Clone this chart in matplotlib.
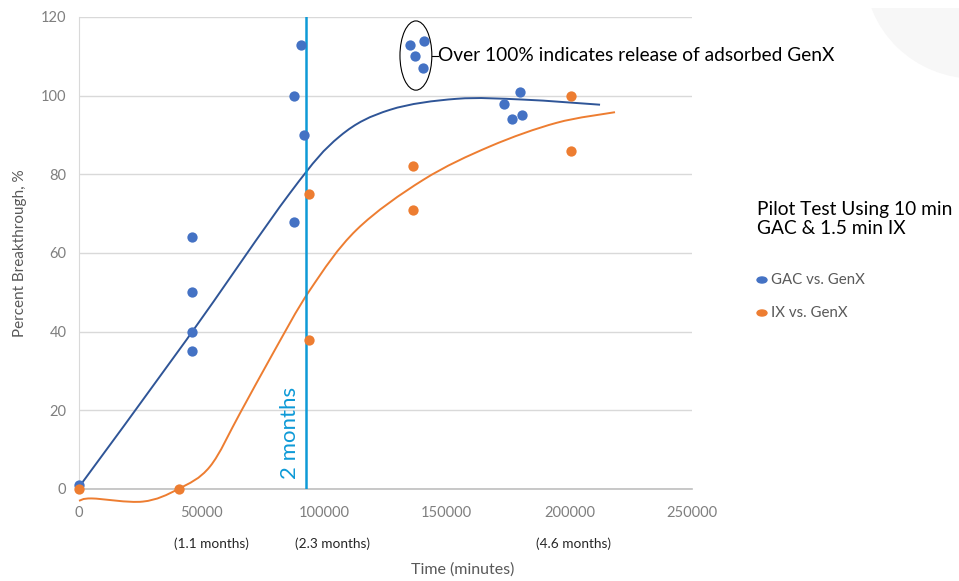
import matplotlib
matplotlib.use("Agg")
import matplotlib.pyplot as plt
import numpy as np
from matplotlib.path import Path
from matplotlib.patches import PathPatch, Ellipse, Circle, Rectangle

plt.rcParams['font.family'] = ['Lato', 'DejaVu Sans']

# Measured breakthrough points
gac_time = [0, 46000, 46000, 46000, 46000, 87700, 87700, 90500, 91800,
            135000, 137000, 140300, 140700, 173300, 176600, 179900, 180700]
gac_pct = [1, 64, 50, 40, 35, 100, 68, 113, 90,
           113, 110, 107, 114, 98, 94, 101, 95]

ix_time = [0, 40800, 93800, 93800, 136200, 136200, 200600, 200600]
ix_pct = [0, 0, 75, 38, 82, 71, 100, 86]

# Hand-drawn trend curves (knots)
gac_trend_t = [0, 43800, 86000, 106400, 126800, 154000, 181200, 212500]
gac_trend_y = [0.5, 37.9, 75.2, 89.7, 96.4, 99.2, 99.0, 97.7]

ix_trend_t = [0, 5200, 26000, 40500, 53400, 65700, 79200, 94200, 113200,
              140400, 167600, 194800, 218600]
ix_trend_y = [-3, -2.4, -3.2, 0, 5.7, 19.3, 34.6, 50.6, 65.9,
              78.6, 87.1, 93.1, 95.8]

xticks = [0, 50000, 100000, 150000, 200000, 250000]
yticks = [0, 20, 40, 60, 80, 100, 120]
month_labels = ["(1.1 months)", "(2.3 months)", "(4.6 months)"]
month_pos = [54000, 103500, 201500]
two_month_t = 92600

BLUE = "#4472C4"
ORANGE = "#ED7D31"
GRAY_TXT = "#7F7F7F"


def smooth_path(xs, ys):
    pts = np.column_stack([xs, ys]).astype(float)
    n = len(pts)
    verts = [pts[0]]
    codes = [Path.MOVETO]
    for i in range(n - 1):
        p0 = pts[i - 1] if i > 0 else pts[i]
        p1 = pts[i]
        p2 = pts[i + 1]
        p3 = pts[i + 2] if i + 2 < n else pts[i + 1]
        c1 = p1 + (p2 - p0) / 6.0
        c2 = p2 - (p3 - p1) / 6.0
        verts += [c1, c2, p2]
        codes += [Path.CURVE4] * 3
    return Path(verts, codes)


fig = plt.figure(figsize=(9.59, 5.81), dpi=100)

# faint slide decoration in the top-right corner (figure pixel space)
deco = Ellipse((975, 581 + 30), 220, 216, transform=None,
               color='#F7F7F7', zorder=0)
fig.patches.append(deco)
clip = Rectangle((0, 0), 959, 581 - 8, transform=None)
deco.set_clip_path(clip)

ax = fig.add_axes([79 / 959, 1 - 489 / 581, 613 / 959, 472 / 581])
ax.patch.set_alpha(0)

ax.set_xlim(0, 250000)
ax.set_ylim(0, 120)
ax.set_xticks(xticks)
ax.set_xticklabels([str(t) for t in xticks])
ax.set_yticks(yticks)
ax.tick_params(length=0, colors=GRAY_TXT, labelsize=10.5, pad=9)
ax.tick_params(axis='x', pad=12)
ax.grid(axis='y', color='#D9D9D9', lw=1)
ax.set_axisbelow(True)
for s in ['top', 'right']:
    ax.spines[s].set_visible(False)
ax.spines['left'].set_color('#D9D9D9')
ax.spines['bottom'].set_color('#BFBFBF')
ax.spines['bottom'].set_linewidth(1.2)

# trend curves
ax.add_patch(PathPatch(smooth_path(gac_trend_t, gac_trend_y), fill=False,
                       edgecolor='#2F5597', lw=1.4, clip_on=False, zorder=3))
ax.add_patch(PathPatch(smooth_path(ix_trend_t, ix_trend_y), fill=False,
                       edgecolor=ORANGE, lw=1.4, clip_on=False, zorder=3))

# 2-month marker
ax.axvline(two_month_t, color='#0E9AD7', lw=1.8, zorder=4)
ax.text(two_month_t - 2300, 2.5, "2 months", rotation=90, color='#0E9AD7',
        fontsize=16, ha='right', va='bottom', zorder=5)

# measured points
ax.scatter(gac_time, gac_pct, s=55, color=BLUE, zorder=6, clip_on=False,
           linewidths=0)
ax.scatter(ix_time, ix_pct, s=55, color=ORANGE, zorder=6, clip_on=False,
           linewidths=0)

# callout around the >100% points
ax.add_patch(Ellipse((137400, 110.2), 13000, 17.6, fill=False,
                     edgecolor='black', lw=0.8, zorder=7))
ax.plot([143900, 146300], [110.2, 110.2], color='black', lw=0.8, zorder=7)
ax.text(146300, 110.2, "Over 100% indicates release of adsorbed GenX",
        fontsize=13.8, va='center', ha='left', color='black', zorder=7)

ax.set_ylabel("Percent Breakthrough, %", color='#595959', fontsize=11,
              labelpad=10)

# month annotations and axis title below x axis
for lbl, pos in zip(month_labels, month_pos):
    ax.text(pos, -13.8, lbl, ha='center', va='center', fontsize=9.8,
            color='#262626')
fig.text(463 / 959, 1 - 570 / 581, "Time (minutes)", ha='center',
         va='center', fontsize=11.5, color='#595959')

# side panel: description and legend
fig.text(757 / 959, 1 - 219 / 581, "Pilot Test Using 10 min\nGAC & 1.5 min IX",
         ha='left', va='center', fontsize=13.8, color='black', linespacing=1.2)
fig.patches.append(Circle((762 / 959, 1 - 280 / 581), 0.0052,
                          transform=fig.transFigure, color=BLUE))
fig.patches.append(Circle((762 / 959, 1 - 313 / 581), 0.0052,
                          transform=fig.transFigure, color=ORANGE))
fig.text(771 / 959, 1 - 280 / 581, "GAC vs. GenX", ha='left', va='center',
         fontsize=10.8, color='#595959')
fig.text(771 / 959, 1 - 313 / 581, "IX vs. GenX", ha='left', va='center',
         fontsize=10.8, color='#595959')

fig.savefig("out.png", dpi=100, facecolor='white')
